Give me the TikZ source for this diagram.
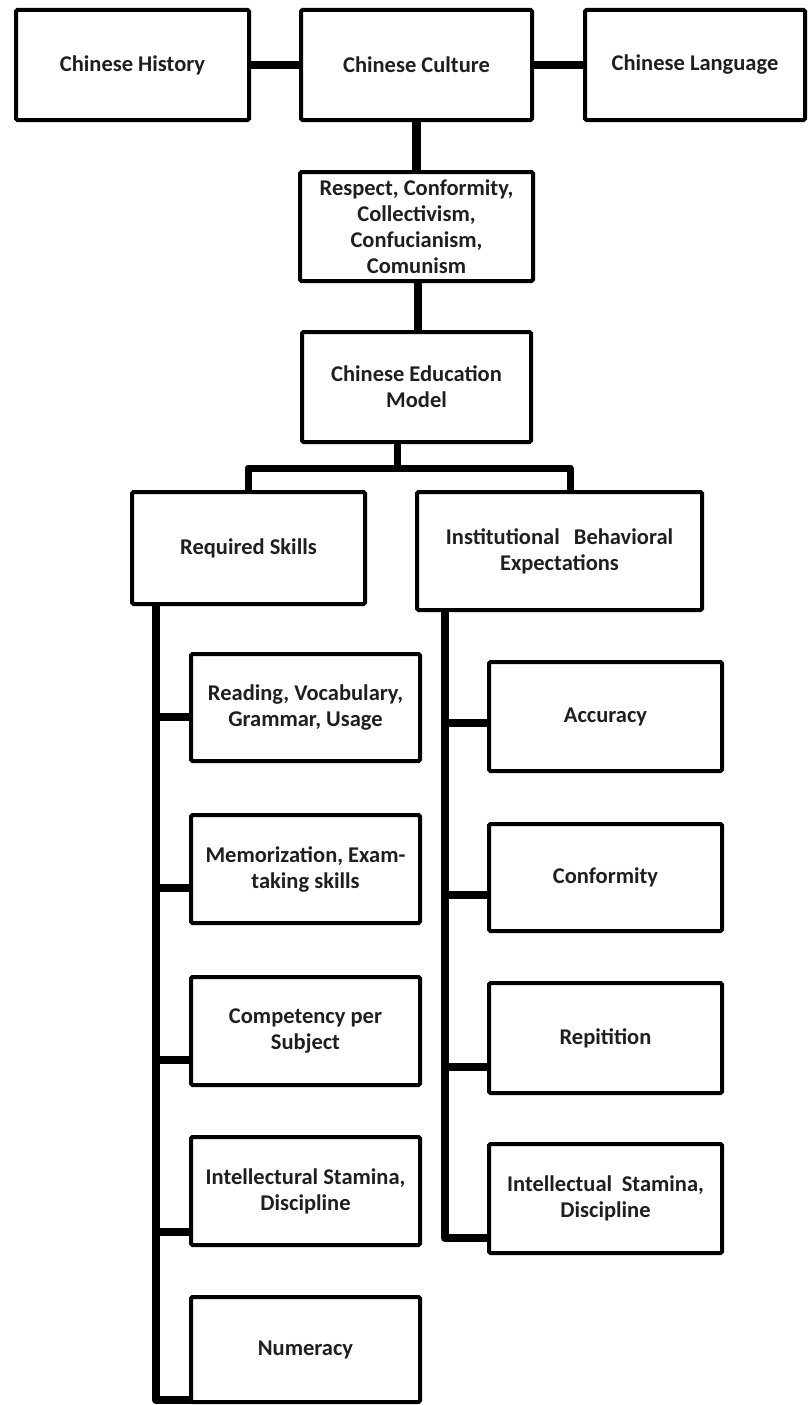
\documentclass[tikz,border=0pt]{standalone}
\usepackage{fontspec}
\setmainfont{Carlito}
\begin{document}
\begin{tikzpicture}[x=1pt,y=-1pt,
  box/.style={draw=black, line width=4pt, fill=white, rounded corners=1.5pt,
    inner sep=0pt, outer sep=0pt, align=center, text=black!88,
    font=\fontsize{22.5}{26}\selectfont\bfseries},
  conn/.style={draw=black, line width=8.5pt, line join=round}]
\useasboundingbox[fill=white] (0,0) rectangle (809,1405);

% top row
\node[box, minimum width=233pt, minimum height=110pt] (hist) at (132.5,65) {Chinese History};
\node[box, minimum width=231pt, minimum height=110pt] (cult) at (416.5,65) {Chinese Culture};
\node[box, minimum width=220pt, minimum height=110pt] (lang) at (695,65) {Chinese Language};

% values and model
\node[box, minimum width=233pt, minimum height=109pt] (resp) at (416.5,226.5)
  {Respect, Conformity,\\Collectivism,\\Confucianism,\\Comunism};
\node[box, minimum width=229pt, minimum height=110pt] (edu) at (416.5,387)
  {Chinese Education\\Model};

% two branches
\node[box, minimum width=233pt, minimum height=112pt] (req) at (248.5,548) {Required Skills};
\node[box, minimum width=285pt, minimum height=118pt] (inst) at (559.5,551)
  {Institutional\hspace{0.4em} Behavioral\\Expectations};

% required skills
\node[box, minimum width=229pt, minimum height=107pt] (read) at (305.5,707.5)
  {Reading, Vocabulary,\\Grammar, Usage};
\node[box, minimum width=229pt, minimum height=108pt] (memo) at (305.5,869)
  {Memorization, Exam-\\taking skills};
\node[box, minimum width=229pt, minimum height=108pt] (comp) at (305.5,1031)
  {Competency per\\Subject};
\node[box, minimum width=229pt, minimum height=108pt] (intl) at (305.5,1191)
  {Intellectural Stamina,\\Discipline};
\node[box, minimum width=229pt, minimum height=105pt] (num) at (305.5,1349.5)
  {Numeracy};

% behavioural expectations
\node[box, minimum width=233pt, minimum height=109pt] (acc) at (605.5,716.5) {Accuracy};
\node[box, minimum width=233pt, minimum height=107pt] (conf) at (605.5,877.5) {Conformity};
\node[box, minimum width=233pt, minimum height=110pt] (rep) at (605.5,1038) {Repitition};
\node[box, minimum width=233pt, minimum height=109pt] (intr) at (605.5,1198.5)
  {Intellectual\hspace{0.2em} Stamina,\\Discipline};

% junction points
\coordinate (j) at (397,468);
\coordinate (barL) at (248,468);
\coordinate (barR) at (570,468);
\coordinate (sL1) at (156,717);
\coordinate (sL2) at (156,888);
\coordinate (sL3) at (156,1060);
\coordinate (sL4) at (156,1232);
\coordinate (sL5) at (156,1400);
\coordinate (sR1) at (445,723);
\coordinate (sR2) at (445,895);
\coordinate (sR3) at (445,1067);
\coordinate (sR4) at (445,1238);

% connectors
\draw[conn] (hist.east) -- (cult.west);
\draw[conn] (cult.east) -- (lang.west);
\draw[conn] (cult.south) -- (resp.north);
\draw[conn] ([xshift=1.5pt]resp.south) -- ([xshift=1.5pt]edu.north);
\draw[conn, line width=7pt] (j |- edu.south) -- (j);
\draw[conn, line width=7pt] (req.north -| barL) -- (barL) -- (barR) -- (barR |- inst.north);

\draw[conn] (req.south -| sL1) -- (sL5) -- (sL5 -| num.west);
\draw[conn] (sL1) -- (sL1 -| read.west);
\draw[conn] (sL2) -- (sL2 -| memo.west);
\draw[conn] (sL3) -- (sL3 -| comp.west);
\draw[conn] (sL4) -- (sL4 -| intl.west);

\draw[conn] (inst.south -| sR1) -- (sR4) -- (sR4 -| intr.west);
\draw[conn] (sR1) -- (sR1 -| acc.west);
\draw[conn] (sR2) -- (sR2 -| conf.west);
\draw[conn] (sR3) -- (sR3 -| rep.west);
\end{tikzpicture}
\end{document}
